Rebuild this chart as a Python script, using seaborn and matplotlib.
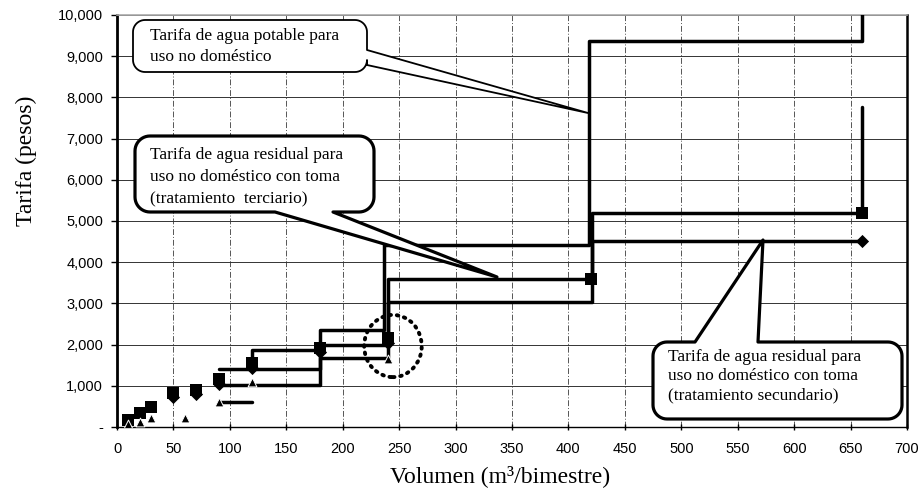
import numpy as np
import seaborn as sns
import matplotlib
matplotlib.use("Agg")
import matplotlib.pyplot as plt
from matplotlib.path import Path
from matplotlib.patches import PathPatch, Ellipse
from matplotlib.transforms import Affine2D
from matplotlib.ticker import FuncFormatter

# ---- marker series (volumen m3/bimestre, tarifa pesos) ----
sq_vol = [10, 20, 30, 50, 70, 90, 120, 180, 240, 420, 660]
sq_tar = [170, 330, 490, 820, 900, 1160, 1545, 1920, 2150, 3600, 5200]
di_vol = [50, 70, 90, 120, 180, 240, 660]
di_tar = [720, 800, 1050, 1430, 1810, 2040, 4520]
tr_vol = [10, 20, 30, 60, 90, 120, 240]
tr_tar = [70, 130, 220, 210, 610, 1100, 1650]

# ---- step lines by volume bracket ----
pot_vol = [120, 120, 180, 180, 237, 237, 418, 418, 660, 660]
pot_tar = [1545, 1870, 1870, 2350, 2350, 4420, 4420, 9380, 9380, 10600]
ter_vol = [90, 180, 180, 240, 240, 421, 421, 660, 660]
ter_tar = [1400, 1400, 1990, 1990, 3600, 3600, 5200, 5200, 7775]
sec_vol = [90, 180, 180, 240, 240, 421, 421, 660]
sec_tar = [1020, 1020, 1670, 1670, 3040, 3040, 4520, 4520]
low_vol = [90, 120]
low_tar = [610, 610]

x_ticks = list(range(0, 701, 50))
y_ticks = list(range(0, 10001, 1000))

callout_pot = ["Tarifa de agua potable para", "uso no doméstico"]
callout_ter = ["Tarifa de agua residual para", "uso no doméstico con toma",
               "(tratamiento  terciario)"]
callout_sec = ["Tarifa de agua residual para", "uso no doméstico con toma",
               "(tratamiento secundario)"]

sns.set_theme(style="white")
plt.rcParams["font.family"] = ["Liberation Sans", "DejaVu Sans"]
SERIF = ["Liberation Serif", "DejaVu Serif"]

W, H = 923, 495
fig = plt.figure(figsize=(W / 100, H / 100), dpi=100)
ax = fig.add_axes([117 / W, 1 - 427 / H, 790 / W, 412 / H])
px = Affine2D().scale(1, -1).translate(0, H)  # pixel coords, origin top-left

# grid
ax.set_xlim(0, 700)
ax.set_ylim(0, 10000)
ax.set_xticks(x_ticks)
ax.set_yticks(y_ticks)
ax.yaxis.grid(True, color="#333333", lw=0.7, zorder=0)
ax.xaxis.grid(True, color="#555555", lw=0.7, ls=(0, (6, 2, 1, 2)), zorder=0)
ax.set_axisbelow(True)

# step lines
for xs, ys in [(pot_vol, pot_tar), (ter_vol, ter_tar), (sec_vol, sec_tar),
               (low_vol, low_tar)]:
    sns.lineplot(x=xs, y=ys, sort=False, estimator=None, ax=ax,
                 color="black", lw=2.5, zorder=3)

# markers
sns.scatterplot(x=di_vol, y=di_tar, marker="D", s=45, color="black",
                linewidth=0, ax=ax, zorder=4)
sns.scatterplot(x=sq_vol, y=sq_tar, marker="s", s=85, color="black",
                linewidth=0, ax=ax, zorder=5)
sns.scatterplot(x=tr_vol, y=tr_tar, marker="^", s=40, color="black",
                edgecolor="white", linewidth=0.7, ax=ax, zorder=6)

# dotted ring around the 240 m3 break
ax.add_patch(Ellipse((244.5, 1966), width=51, height=1510, fill=False,
                     ec="black", lw=2.8, ls=(0, (0.4, 1.5)),
                     capstyle="round", zorder=6))

# axes styling
ax.yaxis.set_major_formatter(FuncFormatter(lambda v, p: "-" if v == 0 else f"{int(v):,}"))
ax.tick_params(axis="y", direction="out", length=4, width=1, pad=6,
               labelsize=10.5, colors="black", left=True)
ax.tick_params(axis="x", direction="inout", length=5, width=1, pad=8,
               labelsize=10.5, colors="black", bottom=True)
for side, lw, col in [("left", 2.0, "black"), ("bottom", 1.0, "black"),
                      ("right", 1.8, "black"), ("top", 1.2, "#aaaaaa")]:
    ax.spines[side].set_visible(True)
    ax.spines[side].set_linewidth(lw)
    ax.spines[side].set_color(col)

ax.set_xlabel("Volumen (m³/bimestre)", family=SERIF, fontsize=17, color="black")
ax.set_ylabel("Tarifa (pesos)", family=SERIF, fontsize=17, color="black")
ax.xaxis.set_label_coords(0.485, -0.092)
ax.yaxis.set_label_coords(-0.101, 0.646)


def callout_vertices(left, top, right, bottom, r, side, b0, b1, tip):
    v = []

    def arc(cx, cy, a0, a1):
        for a in np.radians(np.linspace(a0, a1, 12)):
            v.append((cx + r * np.cos(a), cy + r * np.sin(a)))

    v.append((left + r, top))
    if side == "top":
        v.extend([(b0, top), tip, (b1, top)])
    arc(right - r, top + r, -90, 0)
    if side == "right":
        v.extend([(right, b0), tip, (right, b1)])
    arc(right - r, bottom - r, 0, 90)
    if side == "bottom":
        v.extend([(b1, bottom), tip, (b0, bottom)])
    arc(left + r, bottom - r, 90, 180)
    arc(left + r, top + r, 180, 270)
    v.append(v[0])
    return v


def callout(box, r, side, b0, b1, tip, lines, x_text, y_lines, lw):
    verts = callout_vertices(*box, r, side, b0, b1, tip)
    patch = PathPatch(Path(verts, closed=True), facecolor="white",
                      edgecolor="black", lw=lw, joinstyle="round",
                      transform=px, clip_on=False, zorder=7)
    ax.add_artist(patch)
    for txt, y in zip(lines, y_lines):
        ax.text(x_text, y, txt, transform=px, family=SERIF, fontsize=12.5,
                ha="left", va="center", color="black", zorder=8,
                clip_on=False)


callout((133, 20, 367, 72), 12, "right", 50, 65, (588, 113),
        callout_pot, 150, [36, 57], 1.3)
callout((135, 136, 374, 212), 15, "bottom", 275, 333, (497, 277),
        callout_ter, 150, [155, 177, 199], 2.3)
callout((653, 342, 902, 419), 14, "top", 695, 758, (763, 240),
        callout_sec, 668, [357, 376, 395], 2.3)

fig.savefig("out.png", dpi=100)
